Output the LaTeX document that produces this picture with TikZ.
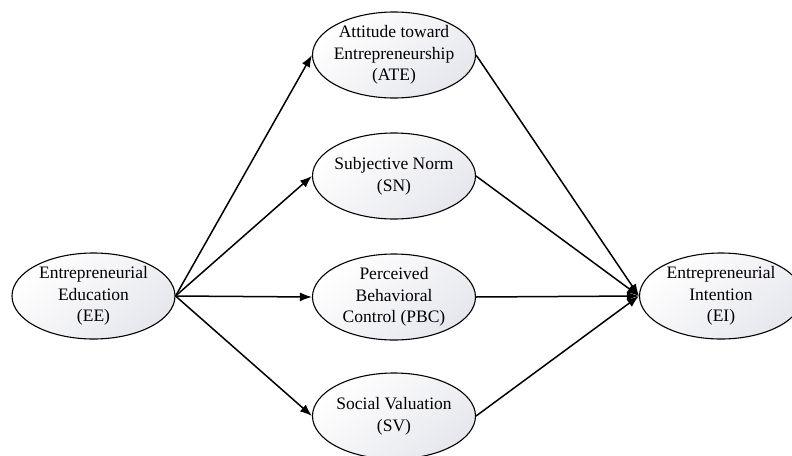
\documentclass[tikz,border=0pt]{standalone}
\usepackage{fontspec}
\setmainfont{Liberation Serif}
\usetikzlibrary{shapes.geometric,arrows.meta}
\definecolor{shadegray}{RGB}{230,231,237}
\tikzset{
  oval/.style={ellipse, draw=black, line width=1.1pt, inner sep=0pt,
    minimum width=163pt, minimum height=86pt,
    top color=white, bottom color=shadegray, shading angle=40},
  lbl/.style={align=center, inner sep=0pt,
    font=\fontsize{17.5pt}{21.7pt}\selectfont},
  link/.style={line width=1.5pt, -{Latex[length=12pt,width=9pt]}}
}
\begin{document}
\begin{tikzpicture}[x=1pt,y=-1pt]
\useasboundingbox (0,0) rectangle (792,455);
\clip (0,0) rectangle (792,455);
\node[oval] (ee)  at (93.5,296) {};
\node[oval] (ate) at (394,55)  {};
\node[oval] (sn)  at (394,176) {};
\node[oval] (pbc) at (394,297) {};
\node[oval] (sv)  at (394,416) {};
\node[oval] (ei)  at (721,296) {};
\node[lbl] (ee-t)  at (ee)  {Entrepreneurial\\Education\\(EE)};
\node[lbl] (ate-t) at (ate) {Attitude toward\\Entrepreneurship\\(ATE)};
\node[lbl] (sn-t)  at (sn)  {Subjective Norm\\(SN)};
\node[lbl] (pbc-t) at (pbc) {Perceived\\Behavioral\\Control (PBC)};
\node[lbl] (sv-t)  at (sv)  {Social Valuation\\(SV)};
\node[lbl] (ei-t)  at (ei)  {Entrepreneurial\\Intention\\(EI)};
\foreach \t in {ate,sn,pbc,sv}{
  \draw[link] (ee.east) -- (\t.west);
  \draw[link] (\t.east) -- (ei.west);
}
\end{tikzpicture}
\end{document}
